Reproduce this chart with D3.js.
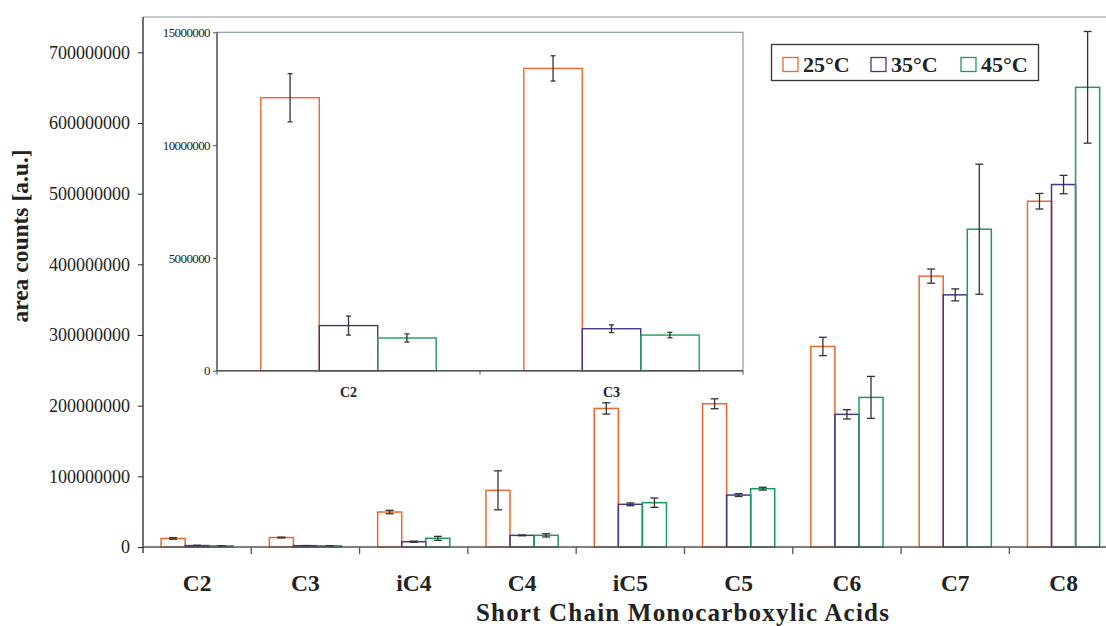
<!DOCTYPE html>
<html><head><meta charset="utf-8">
<script src="https://cdn.jsdelivr.net/npm/d3@7"></script>
<style>
html,body{margin:0;padding:0;background:#fff;overflow:hidden;}
svg{display:block;}
text{font-family:"Liberation Serif","Times New Roman",serif;fill:#222;}
</style></head>
<body><svg id="chart" width="1106" height="626"></svg>
<script>
// ---- data ----
const categories = ["C2","C3","iC4","C4","iC5","C5","C6","C7","C8"];
const series = ["25°C","35°C","45°C"];
const v25 = [12.1e6, 13.4e6, 49.5e6, 80.2e6, 196.1e6, 202.7e6, 283.8e6, 383.3e6, 489.3e6];
const e25 = [1.07e6, 0.56e6, 2.4e6, 27.6e6, 8e6, 7e6, 13e6, 10e6, 11e6];
const v35 = [2.0e6, 1.86e6, 7.5e6, 16.5e6, 60.4e6, 73.5e6, 187.7e6, 356.8e6, 512.9e6];
const e35 = [0.42e6, 0.17e6, 0.8e6, 0.6e6, 2e6, 2e6, 6.6e6, 8.5e6, 13e6];
const v45 = [1.45e6, 1.58e6, 12.3e6, 16.5e6, 62.7e6, 82.5e6, 211.7e6, 449.7e6, 650.5e6];
const e45 = [0.18e6, 0.12e6, 2.8e6, 2.3e6, 6.6e6, 2e6, 29.7e6, 92e6, 79e6];
const mainTicks = [0,100000000,200000000,300000000,400000000,500000000,600000000,700000000];
const insetCategories = ["C2","C3"];
const insetTicks = [0,5000000,10000000,15000000];
const colors = ["#ee6630","#4a3585","#1f9a5e"];

const values = [v25, v35, v45];
const errors = [e25, e35, e45];
const rows = categories.map((c,i)=>({cat:c, items: series.map((s,j)=>({s, j, v: values[j][i], e: errors[j][i]}))}));

const svg = d3.select("#chart");

// ---- main chart ----
const L = 143, R = 1117.7, T = 17, B = 547;
const x = d3.scaleBand().domain(categories).range([L,R]).padding(0);
const xs = d3.scaleBand().domain(series).range([0,x.bandwidth()]).paddingInner(0).paddingOuter(0.75);
const y = d3.scaleLinear().domain([0,750000000]).range([B,T]);

svg.append("line").attr("x1",L).attr("x2",1106).attr("y1",T).attr("y2",T)
  .attr("stroke","#b4b8bc").attr("stroke-width",1.5);

function drawBars(g, rowsData, xS, xSub, yS, capW, sw){
  const grp = g.selectAll("g.grp").data(rowsData).join("g").attr("class","grp")
    .attr("transform",d=>`translate(${xS(d.cat)},0)`);
  grp.selectAll("rect").data(d=>d.items).join("rect")
    .attr("x",d=>xSub(d.s)).attr("width",xSub.bandwidth())
    .attr("y",d=>yS(d.v)).attr("height",d=>yS(0)-yS(d.v))
    .attr("fill","none").attr("stroke",d=>colors[d.j]).attr("stroke-width",sw);
  const eb = grp.selectAll("g.eb").data(d=>d.items).join("g").attr("class","eb")
    .attr("transform",d=>`translate(${xSub(d.s)+xSub.bandwidth()/2},0)`);
  eb.append("line").attr("x1",0).attr("x2",0).attr("y1",d=>yS(d.v+d.e)).attr("y2",d=>yS(d.v-d.e))
    .attr("stroke","#333").attr("stroke-width",1.3);
  eb.append("line").attr("x1",-capW/2).attr("x2",capW/2).attr("y1",d=>yS(d.v+d.e)).attr("y2",d=>yS(d.v+d.e))
    .attr("stroke","#333").attr("stroke-width",1.3);
  eb.append("line").attr("x1",-capW/2).attr("x2",capW/2).attr("y1",d=>yS(d.v-d.e)).attr("y2",d=>yS(d.v-d.e))
    .attr("stroke","#333").attr("stroke-width",1.3);
}

const gMain = svg.append("g");
drawBars(gMain, rows, x, xs, y, 8, 1.5);

// y axis
const yAx = svg.append("g").attr("transform",`translate(${L},0)`)
  .call(d3.axisLeft(y).tickValues(mainTicks).tickFormat(d3.format("d")).tickSize(5).tickPadding(8));
yAx.select(".domain").attr("d",`M0,${T}V${B+6}`).attr("stroke","#222").attr("stroke-width",1.3);
yAx.selectAll(".tick line").attr("stroke","#222");
yAx.selectAll(".tick text").style("font-size","18px").attr("fill","#222")
  .style("font-family","'Liberation Serif',serif");

// x axis
svg.append("line").attr("x1",L).attr("x2",R).attr("y1",B).attr("y2",B).attr("stroke","#555").attr("stroke-width",1.5);
svg.selectAll("line.xt").data(categories.slice(1)).join("line").attr("class","xt")
  .attr("x1",d=>x(d)).attr("x2",d=>x(d)).attr("y1",B).attr("y2",B+7).attr("stroke","#555").attr("stroke-width",1.3);
svg.selectAll("text.xl").data(categories).join("text").attr("class","xl")
  .attr("x",d=>x(d)+x.bandwidth()/2).attr("y",591).attr("text-anchor","middle")
  .style("font-size","23.5px").style("font-weight","bold").text(d=>d);

// axis titles
svg.append("text").attr("x",683).attr("y",621).attr("text-anchor","middle")
  .style("font-size","25px").style("font-weight","bold").style("letter-spacing","1.2px")
  .text("Short Chain Monocarboxylic Acids");
svg.append("text").attr("transform","translate(28,236) rotate(-90)").attr("text-anchor","middle")
  .style("font-size","23.5px").style("font-weight","bold").text("area counts [a.u.]");

// legend
const lg = svg.append("g");
lg.append("rect").attr("x",771.5).attr("y",44.5).attr("width",267).attr("height",36)
  .attr("fill","#fff").attr("stroke","#333").attr("stroke-width",1.3);
const lx = [783, 871, 961];
series.forEach((s,i)=>{
  lg.append("rect").attr("x",lx[i]).attr("y",57.5).attr("width",15).attr("height",14)
    .attr("fill","none").attr("stroke",colors[i]).attr("stroke-width",1.3);
  lg.append("text").attr("x",lx[i]+20).attr("y",72).style("font-size","22px").style("font-weight","bold").text(s);
});

// ---- inset ----
const iL = 217, iR = 743, iT = 32.3, iB = 370.7;
const ix = d3.scaleBand().domain(insetCategories).range([iL,iR]).padding(0);
const ixs = d3.scaleBand().domain(series).range([0,ix.bandwidth()]).paddingInner(0).paddingOuter(0.75);
const iy = d3.scaleLinear().domain([0,15000000]).range([iB,iT]);
const gi = svg.append("g");
gi.append("rect").attr("x",iL).attr("y",iT).attr("width",iR-iL).attr("height",iB-iT)
  .attr("fill","#fff").attr("stroke","#8a96a8").attr("stroke-width",1.2);
const irows = rows.filter(r=>insetCategories.includes(r.cat));
drawBars(gi, irows, ix, ixs, iy, 5, 1.4);
const iyAx = gi.append("g").attr("transform",`translate(${iL},0)`)
  .call(d3.axisLeft(iy).tickValues(insetTicks).tickFormat(d3.format("d")).tickSize(4).tickPadding(3));
iyAx.select(".domain").attr("d",`M0,${iT}V${iB}`).attr("stroke","#555").attr("stroke-width",1.3);
iyAx.selectAll(".tick line").attr("stroke","#555");
iyAx.selectAll(".tick text").style("font-size","13px").style("letter-spacing","-0.6px").attr("fill","#333")
  .style("font-family","'Liberation Serif',serif");
gi.append("line").attr("x1",iL).attr("x2",iR).attr("y1",iB).attr("y2",iB).attr("stroke","#555").attr("stroke-width",1.5);
gi.selectAll("line.ixt").data([iL, iL+ix.bandwidth(), iR]).join("line").attr("class","ixt")
  .attr("x1",d=>d).attr("x2",d=>d).attr("y1",iB).attr("y2",iB+4).attr("stroke","#555");
gi.selectAll("text.ixl").data(insetCategories).join("text").attr("class","ixl")
  .attr("x",d=>ix(d)+ix.bandwidth()/2).attr("y",397).attr("text-anchor","middle")
  .style("font-size","14px").style("font-weight","bold").text(d=>d);
</script></body></html>
